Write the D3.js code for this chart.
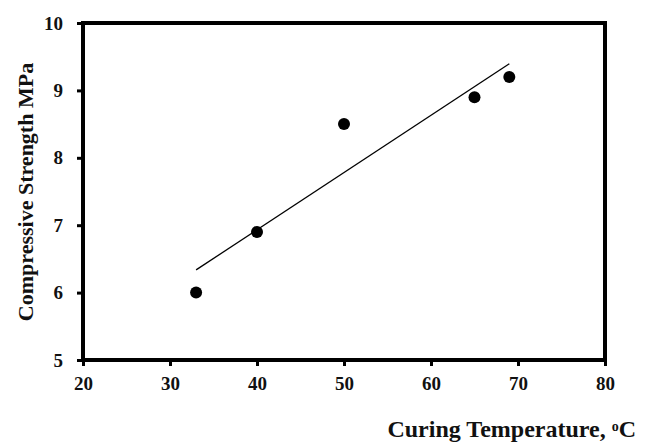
<!DOCTYPE html>
<html>
<head>
<meta charset="utf-8">
<script src="https://cdn.jsdelivr.net/npm/d3@7"></script>
<style>
  body { margin: 0; background: #fff; }
  text { font-family: "Liberation Serif", "Times New Roman", serif; font-weight: bold; fill: #111; }
</style>
</head>
<body>
<div class="chart_wrapper"></div>
<script>
// data
const temperature = [33, 40, 50, 65, 69]
const strength = [6.0, 6.9, 8.5, 8.9, 9.2]
const xTicks = [20, 30, 40, 50, 60, 70, 80]
const yTicks = [5, 6, 7, 8, 9, 10]

const width = 646
const height = 444
const margin = { top: 23, right: 41, bottom: 84, left: 83 }

const svg = d3.select('.chart_wrapper')
    .append('svg')
    .attr('width', width)
    .attr('height', height)

const x = d3.scaleLinear().domain([20, 80]).range([margin.left, width - margin.right])
const y = d3.scaleLinear().domain([5, 10]).range([height - margin.bottom, margin.top])

// axes
const xAxis = svg.append('g')
    .attr('transform', `translate(0,${y(5)})`)
    .call(d3.axisBottom(x).tickValues(xTicks).tickSize(6).tickPadding(11).tickFormat(d3.format('d')))
xAxis.select('.domain').remove()
xAxis.selectAll('line').attr('stroke', '#000').attr('stroke-width', 3)
xAxis.selectAll('text').attr('font-size', 19)

const yAxis = svg.append('g')
    .attr('transform', `translate(${x(20)},0)`)
    .call(d3.axisLeft(y).tickValues(yTicks).tickSize(6).tickPadding(14).tickFormat(d3.format('d')))
yAxis.select('.domain').remove()
yAxis.selectAll('line').attr('stroke', '#000').attr('stroke-width', 3)
yAxis.selectAll('text').attr('font-size', 19)

// plot frame
svg.append('rect')
    .attr('x', x(20))
    .attr('y', y(10))
    .attr('width', x(80) - x(20))
    .attr('height', y(5) - y(10))
    .attr('fill', 'none')
    .attr('stroke', '#000')
    .attr('stroke-width', 4)

// least squares trend line over the data range
const mx = d3.mean(temperature), my = d3.mean(strength)
const slope = d3.sum(temperature, (t, i) => (t - mx) * (strength[i] - my)) / d3.sum(temperature, t => (t - mx) ** 2)
const fit = t => my + slope * (t - mx)
const ext = d3.extent(temperature)
svg.append('path')
    .datum(ext.map(t => [t, fit(t)]))
    .attr('d', d3.line().x(d => x(d[0])).y(d => y(d[1])))
    .attr('stroke', '#000')
    .attr('stroke-width', 1.3)
    .attr('fill', 'none')

svg.append('g')
    .selectAll('circle')
    .data(temperature.map((t, i) => [t, strength[i]]))
    .join('circle')
    .attr('cx', d => x(d[0]))
    .attr('cy', d => y(d[1]))
    .attr('r', 6)
    .attr('fill', '#000')

// titles
svg.append('text')
    .attr('transform', `translate(33,192) rotate(-90)`)
    .attr('text-anchor', 'middle')
    .attr('font-size', 22)
    .text('Compressive Strength MPa')

const xTitle = svg.append('text')
    .attr('x', 636)
    .attr('y', 437)
    .attr('text-anchor', 'end')
    .attr('font-size', 24)
xTitle.append('tspan').text('Curing Temperature, ')
xTitle.append('tspan').attr('font-size', 14).attr('dy', -6).text('o')
xTitle.append('tspan').attr('dy', 6).text('C')
</script>
</body>
</html>
